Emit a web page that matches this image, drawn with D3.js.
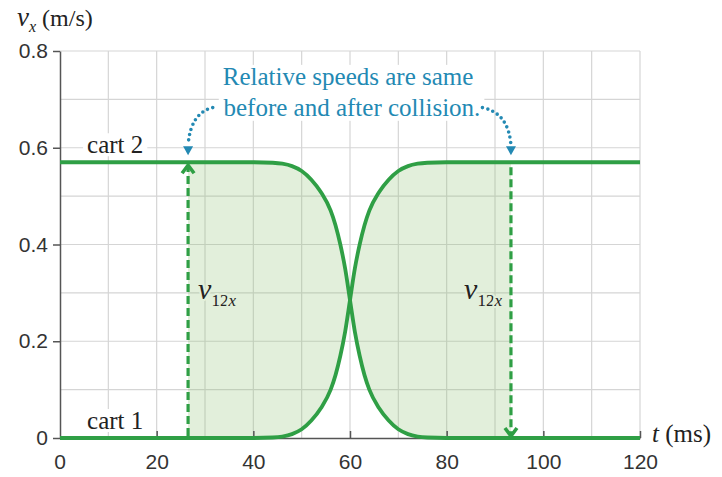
<!DOCTYPE html>
<html>
<head>
<meta charset="utf-8">
<script src="https://cdn.jsdelivr.net/npm/d3@7"></script>
<style>
body { margin: 0; background: #fff; }
svg { display: block; }
</style>
</head>
<body>
<svg id="chart" width="722" height="477"></svg>
<script>
// time in ms, velocities in m/s
var times = [0, 20, 40, 44, 46, 48, 50, 52, 54, 56, 57, 58, 59, 60, 61, 62, 63, 64, 66, 68, 70, 72, 74, 76, 80, 100, 120];
var cart2 = [0.57, 0.57, 0.57, 0.569, 0.567, 0.562, 0.552, 0.534, 0.508, 0.47, 0.44, 0.40, 0.35, 0.285, 0.22, 0.17, 0.13, 0.10, 0.062, 0.036, 0.018, 0.008, 0.003, 0.001, 0, 0, 0];
var cart1 = [0, 0, 0, 0.001, 0.003, 0.008, 0.018, 0.036, 0.062, 0.10, 0.13, 0.17, 0.22, 0.285, 0.35, 0.40, 0.44, 0.47, 0.508, 0.534, 0.552, 0.562, 0.567, 0.569, 0.57, 0.57, 0.57];

var xTicks = [20, 40, 60, 80, 100, 120];
var xLabels = [0, 20, 40, 60, 80, 100, 120];
var yTicks = [0, 0.2, 0.4, 0.6, 0.8];

// where the v12x arrows are drawn
var arrowTimes = [26.5, 93.3];
var relSpeed = 0.57;

var green = "#2f9f45";
var blue = "#2389b3";
var SANS = "'Liberation Sans', Arial, sans-serif";
var SERIF = "'Liberation Serif', 'Times New Roman', serif";

var svg = d3.select("#chart");
var x = d3.scaleLinear().domain([0, 120]).range([60, 640]);
var y = d3.scaleLinear().domain([0, 0.8]).range([438, 51]);

// grid
var grid = svg.append("g").attr("stroke", "#d5d5d5").attr("stroke-width", 1.2);
grid.selectAll(".gx").data(x.ticks(12).filter(function(d) { return d > 0; }))
    .join("line").attr("class", "gx")
    .attr("x1", x).attr("x2", x).attr("y1", y(0)).attr("y2", y(0.8));
grid.selectAll(".gy").data(y.ticks(8).filter(function(d) { return d > 0; }))
    .join("line").attr("class", "gy")
    .attr("y1", y).attr("y2", y).attr("x1", x(0)).attr("x2", x(120));

// shaded area between the curves
var pts = times.map(function(t, i) { return {t: t, a: cart1[i], b: cart2[i]}; });
svg.append("clipPath").attr("id", "band")
    .append("rect")
    .attr("x", x(arrowTimes[0])).attr("width", x(arrowTimes[1]) - x(arrowTimes[0]))
    .attr("y", y(0.8)).attr("height", y(0) - y(0.8));
var area = d3.area()
    .x(function(d) { return x(d.t); })
    .y0(function(d) { return y(d.a); })
    .y1(function(d) { return y(d.b); })
    .curve(d3.curveMonotoneX);
svg.append("path").datum(pts)
    .attr("d", area)
    .attr("clip-path", "url(#band)")
    .attr("fill", "#8cc070")
    .attr("fill-opacity", 0.25);

// axes
var yAxis = svg.append("g")
    .attr("transform", "translate(" + x(0) + ",0)")
    .call(d3.axisLeft(y).tickValues(yTicks).tickSize(7).tickSizeOuter(0).tickPadding(5)
        .tickFormat(function(d) { return d === 0 ? "0" : d3.format(".1f")(d); }));
var xAxis = svg.append("g")
    .attr("transform", "translate(0," + y(0) + ")")
    .call(d3.axisBottom(x).tickValues(xTicks).tickSizeInner(-7).tickSizeOuter(0).tickPadding(16)
        .tickFormat(d3.format("d")));
// x=0 label sits under the y axis
xAxis.append("text").attr("x", x(0)).attr("y", 16).attr("dy", "0.71em")
    .attr("text-anchor", "middle").text(xLabels[0]);
[yAxis, xAxis].forEach(function(a) {
    a.attr("font-family", SANS).attr("font-size", 21);
    a.selectAll("text").attr("fill", "#333");
    a.selectAll("path, line").attr("stroke", "#555").attr("stroke-width", 1.5);
});

// curves
var line = d3.line().x(function(d) { return x(d[0]); }).y(function(d) { return y(d[1]); })
    .curve(d3.curveMonotoneX);
[cart1, cart2].forEach(function(vals) {
    svg.append("path")
        .datum(times.map(function(t, i) { return [t, vals[i]]; }))
        .attr("d", line)
        .attr("fill", "none")
        .attr("stroke", green)
        .attr("stroke-width", 3.8);
});

// dashed v12x arrows
arrowTimes.forEach(function(t, i) {
    var up = i === 0;
    var top = y(relSpeed) + 3, bot = y(0) - 2;
    svg.append("line")
        .attr("x1", x(t)).attr("x2", x(t))
        .attr("y1", up ? bot : top + 2).attr("y2", up ? top + 2 : bot - 2)
        .attr("stroke", green).attr("stroke-width", 3.2)
        .attr("stroke-dasharray", "8,4");
    var tip = up ? top : bot;
    var s = up ? 1 : -1;
    svg.append("path")
        .attr("d", "M" + (x(t) - 6) + "," + (tip + s * 8) + "L" + x(t) + "," + tip + "L" + (x(t) + 6) + "," + (tip + s * 8))
        .attr("fill", "none").attr("stroke", green).attr("stroke-width", 3.6);
    var lab = svg.append("text")
        .attr("font-family", SERIF)
        .attr("x", up ? x(t) + 10 : x(t) - 9)
        .attr("y", y(0.288))
        .attr("text-anchor", up ? "start" : "end")
        .attr("fill", "#222")
        .attr("stroke", "#e2efda").attr("stroke-width", 4).attr("paint-order", "stroke");
    lab.append("tspan").attr("font-style", "italic").attr("font-size", 30).text("v");
    lab.append("tspan").attr("font-size", 17).attr("dy", 7).text("12");
    lab.append("tspan").attr("font-size", 17).attr("font-style", "italic").text("x");
});

// series labels
[["cart 2", relSpeed], ["cart 1", 0]].forEach(function(d) {
    var g = svg.append("g");
    var t = g.append("text")
        .attr("font-family", SERIF)
        .attr("x", x(5.6)).attr("y", y(d[1]) - 9)
        .attr("font-size", 25).attr("fill", "#222").text(d[0]);
    var bb = t.node().getBBox();
    g.insert("rect", "text")
        .attr("x", bb.x - 4).attr("y", bb.y + 2).attr("width", bb.width + 8).attr("height", bb.height - 4)
        .attr("fill", "#fff");
});

// annotation
var note = svg.append("g");
var nt = note.append("text").attr("font-family", SERIF).attr("fill", blue)
    .attr("font-size", 25).attr("text-anchor", "middle");
nt.append("tspan").attr("x", x(59.6)).attr("y", y(0.73)).text("Relative speeds are same");
nt.append("tspan").attr("x", x(60.4)).attr("y", y(0.666)).text("before and after collision.");
var nb = nt.node().getBBox();
note.insert("rect", "text")
    .attr("x", nb.x - 4).attr("y", nb.y + 2).attr("width", nb.width + 8).attr("height", nb.height - 2)
    .attr("fill", "#fff");

// dotted pointers
var pointers = [
    [[31.6, 0.683], [27, 0.672], [arrowTimes[0], 0.605]],
    [[87.4, 0.683], [92.8, 0.672], [arrowTimes[1], 0.605]]
];
pointers.forEach(function(p) {
    svg.append("path")
        .attr("d", "M" + x(p[0][0]) + "," + y(p[0][1]) + "Q" + x(p[1][0]) + "," + y(p[1][1]) + " " + x(p[2][0]) + "," + y(p[2][1]))
        .attr("fill", "none").attr("stroke", blue).attr("stroke-width", 3.6)
        .attr("stroke-linecap", "round").attr("stroke-dasharray", "0,5.4");
    var tx = x(p[2][0]), ty = y(p[2][1]) + 10;
    svg.append("path")
        .attr("d", "M" + (tx - 5) + "," + (ty - 9) + "L" + (tx + 5) + "," + (ty - 9) + "L" + tx + "," + ty + "Z")
        .attr("fill", blue);
});

// axis titles
var vt = svg.append("text").attr("font-family", SERIF).attr("x", 17).attr("y", 26).attr("fill", "#222").attr("font-size", 24);
vt.append("tspan").attr("font-style", "italic").attr("font-size", 27).text("v");
vt.append("tspan").attr("font-style", "italic").attr("font-size", 16).attr("dy", 6).text("x");
vt.append("tspan").attr("dy", -6).attr("dx", 6).text("(m/s)");

var tt = svg.append("text").attr("font-family", SERIF).attr("x", 652).attr("y", 442).attr("fill", "#222").attr("font-size", 25);
tt.append("tspan").attr("font-style", "italic").text("t");
tt.append("tspan").text(" (ms)");
</script>
</body>
</html>
